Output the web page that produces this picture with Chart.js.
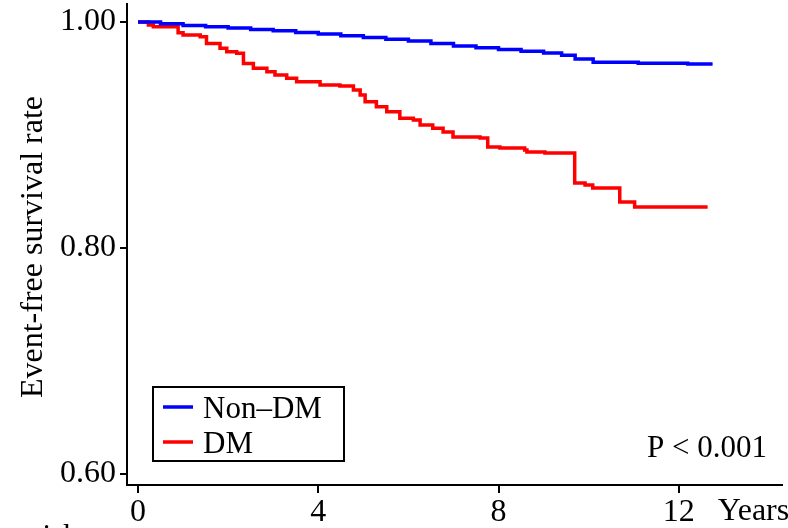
<!DOCTYPE html>
<html>
<head>
<meta charset="utf-8">
<script src="https://cdn.jsdelivr.net/npm/chart.js@4/dist/chart.umd.min.js"></script>
<style>
  html, body { margin: 0; padding: 0; background: #fff; }
  canvas { display: block; }
</style>
</head>
<body>
<canvas id="kmChart" width="788" height="528"></canvas>
<script>
// survival data (years, event-free survival)
const groupNames = ["Non\u2013DM", "DM"];
const groupColors = ["#0000ff", "#ff0000"];

const blueTime = [0, 0.5, 1, 1.5, 2, 2.5, 3, 3.5, 4, 4.5, 5, 5.5, 6, 6.5, 7, 7.5, 8, 8.5, 9, 9.4, 9.7, 10.1, 11.1, 12.2, 12.75];
const blueSurv = [1.000, 0.9985, 0.9970, 0.9958, 0.9947, 0.9935, 0.9923, 0.9908, 0.9894, 0.9878, 0.9863, 0.9848, 0.9832, 0.9810, 0.9788, 0.9772, 0.9757, 0.9742, 0.9726, 0.9705, 0.9673, 0.9643, 0.9635, 0.9628, 0.9628];

const redTime = [0, 0.23, 0.34, 0.89, 1.00, 1.38, 1.52, 1.82, 1.97, 2.19, 2.34, 2.56, 2.86, 3.04, 3.30, 3.52, 4.04, 4.48, 4.78, 4.93, 5.04, 5.29, 5.52, 5.81, 6.11, 6.26, 6.54, 6.77, 6.99, 7.59, 7.76, 8.03, 8.58, 8.63, 9.03, 9.69, 9.92, 10.09, 10.69, 11.02, 12.64];
const redSurv = [1.000, 0.9973, 0.9958, 0.9905, 0.9885, 0.9870, 0.9811, 0.9767, 0.9737, 0.9723, 0.9634, 0.9590, 0.9560, 0.9531, 0.9502, 0.9472, 0.9442, 0.9434, 0.9398, 0.9354, 0.9295, 0.9251, 0.9206, 0.9148, 0.9133, 0.9088, 0.9059, 0.9027, 0.8982, 0.8973, 0.8894, 0.8885, 0.8867, 0.8850, 0.8841, 0.8575, 0.8558, 0.8531, 0.8407, 0.8363, 0.8363];

const xTicks = [0, 4, 8, 12];
const yTicks = [0.60, 0.80, 1.00];

const serif = "'Liberation Serif', 'Times New Roman', serif";

function toPoints(ts, ss) {
    return ts.map((t, i) => ({x: t, y: ss[i]}));
}

// extra text + boxed legend drawn on top
const extras = {
    id: 'extras',
    afterDraw(chart) {
        const ctx = chart.ctx;
        const xs = chart.scales.x;
        ctx.save();
        ctx.fillStyle = '#000';

        // y axis title
        ctx.font = '32px ' + serif;
        ctx.save();
        ctx.translate(42, 247);
        ctx.rotate(-Math.PI / 2);
        ctx.textAlign = 'center';
        ctx.textBaseline = 'alphabetic';
        ctx.fillText('Event-free survival rate', 0, 0);
        ctx.restore();

        // "Years" next to the last tick
        ctx.textAlign = 'left';
        ctx.textBaseline = 'middle';
        ctx.fillText('Years', xs.getPixelForValue(12) + 39, 512);

        // cut-off risk table heading
        ctx.textBaseline = 'alphabetic';
        ctx.font = '31px ' + serif;
        ctx.fillText('at risk', 2, 546);

        // p value
        ctx.textAlign = 'right';
        ctx.fillText('P < 0.001', 767, 457);

        // legend box
        ctx.lineWidth = 2;
        ctx.strokeStyle = '#000';
        ctx.strokeRect(153, 387, 191, 74);
        ctx.textAlign = 'left';
        const rows = [418, 453];
        chart.data.datasets.forEach((ds, i) => {
            const base = rows[i];
            ctx.strokeStyle = ds.borderColor;
            ctx.lineWidth = 3.5;
            ctx.beginPath();
            ctx.moveTo(163, base - 11);
            ctx.lineTo(193, base - 11);
            ctx.stroke();
            ctx.fillStyle = '#000';
            ctx.fillText(ds.label, 203, base);
        });
        ctx.restore();
    }
};

const ctx = document.getElementById('kmChart');

new Chart(ctx, {
    type: 'line',
    data: {
        datasets: [
            {
                label: groupNames[0],
                data: toPoints(blueTime, blueSurv),
                borderColor: groupColors[0],
                borderWidth: 3.5,
                stepped: true,
                pointRadius: 0,
                fill: false
            },
            {
                label: groupNames[1],
                data: toPoints(redTime, redSurv),
                borderColor: groupColors[1],
                borderWidth: 3.5,
                stepped: true,
                pointRadius: 0,
                fill: false
            }
        ]
    },
    options: {
        responsive: false,
        animation: false,
        devicePixelRatio: 1,
        layout: {padding: {left: 0, right: 6, top: 4, bottom: 0}},
        plugins: {
            legend: {display: false},
            tooltip: {enabled: false}
        },
        scales: {
            x: {
                type: 'linear',
                min: -0.244,
                max: 14.29,
                afterBuildTicks: s => { s.ticks = xTicks.map(v => ({value: v})); },
                afterFit: s => {
                    s.height = 43;
                    s.paddingLeft = 0; s.paddingRight = 0;
                },
                ticks: {
                    autoSkip: false,
                    maxRotation: 0,
                    padding: 0,
                    color: '#000',
                    font: {family: serif, size: 32}
                },
                grid: {
                    drawOnChartArea: false,
                    drawTicks: true,
                    tickLength: 8,
                    color: '#000',
                    lineWidth: 2
                },
                border: {display: true, color: '#000', width: 2}
            },
            y: {
                type: 'linear',
                min: 0.59,
                max: 1.016,
                afterBuildTicks: s => { s.ticks = yTicks.map(v => ({value: v})); },
                afterFit: s => {
                    s.width = 127;
                    s.paddingTop = 0; s.paddingBottom = 0;
                },
                ticks: {
                    autoSkip: false,
                    padding: 4,
                    color: '#000',
                    font: {family: serif, size: 32},
                    callback: v => v.toFixed(2)
                },
                grid: {
                    drawOnChartArea: false,
                    drawTicks: true,
                    tickLength: 7,
                    color: '#000',
                    lineWidth: 2
                },
                border: {display: true, color: '#000', width: 2}
            }
        }
    },
    plugins: [extras]
});
</script>
</body>
</html>
